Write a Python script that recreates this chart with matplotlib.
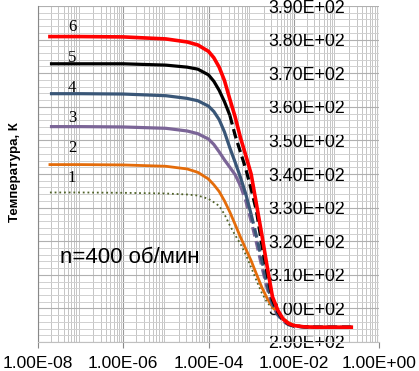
import matplotlib
matplotlib.use('Agg')
import matplotlib.pyplot as plt
import matplotlib.ticker as mticker
import numpy as np

# log10 of x
logx = [-7.72, -7, -6, -5, -4.5, -4.25, -4, -3.875, -3.75, -3.625, -3.5, -3.375,
        -3.25, -3.125, -3, -2.875, -2.75, -2.625, -2.5, -2.375, -2.25, -2.125,
        -2, -1.75, -1.5, -1, -0.65]

t6 = [380.9, 380.9, 380.8, 380.2, 379.3, 378.4, 376.5, 374.6, 371.8, 367.8, 362.3, 357.0,
      350.8, 345.5, 340.0, 331.0, 322.0, 312.5, 303.5, 299.5, 296.8, 295.5,
      294.9, 294.5, 294.4, 294.4, 294.4]
t5 = [372.8, 372.8, 372.8, 372.4, 371.8, 371.2, 369.5, 367.6, 364.9, 361.5, 357.5, 351.5,
      346.5, 341.5, 335.5, 329.0, 319.0, 310.5, 302.5, 299.0, 296.6, 295.4,
      294.8, 294.5, 294.4, 294.4, 294.4]
t4 = [363.9, 363.9, 363.8, 363.3, 362.5, 361.8, 360.2, 358.6, 356.2, 352.5, 347.8, 343.5,
      339.0, 334.0, 328.0, 321.5, 314.5, 307.0, 301.5, 298.3, 296.3, 295.2,
      294.7, 294.5, 294.4, 294.4, 294.4]
t3 = [354.1, 354.1, 354.0, 353.6, 352.8, 352.0, 350.4, 348.8, 346.6, 344.2, 342.0, 339.8,
      336.5, 332.0, 326.0, 319.5, 312.5, 306.0, 301.0, 298.0, 296.2, 295.2,
      294.7, 294.5, 294.4, 294.4, 294.4]
t2 = [342.8, 342.8, 342.7, 342.3, 341.5, 340.5, 338.5, 336.8, 334.8, 332.0, 328.7, 325.0,
      321.2, 317.7, 314.2, 310.2, 306.3, 303.0, 300.5, 298.6, 297.0, 295.8,
      295.0, 294.5, 294.4, 294.4, 294.4]
t1 = [334.5, 334.5, 334.4, 334.2, 333.9, 333.6, 332.6, 331.6, 330.5, 328.0, 324.7, 321.8,
      319.2, 316.0, 312.2, 308.3, 304.6, 301.8, 300.0, 298.5, 297.0, 295.9,
      295.1, 294.6, 294.4, 294.4, 294.4]

curve_labels = ['1', '2', '3', '4', '5', '6']
label_T = [338.7, 347.6, 356.8, 365.7, 374.6, 383.8]

x = 10.0 ** np.array(logx)

fig = plt.figure(figsize=(4.19, 3.71), dpi=100)
ax = fig.add_axes([38/419, 1 - 342/371, 341/419, 336/371])

ax.set_xscale('log')
ax.set_xlim(1e-8, 1e0)
ax.set_ylim(290, 390)

ax.xaxis.set_major_locator(mticker.LogLocator(base=10, numticks=20))
ax.xaxis.set_minor_locator(mticker.LogLocator(base=10, subs=np.arange(2, 10), numticks=20))
ax.yaxis.set_major_locator(mticker.MultipleLocator(10))
ax.yaxis.set_minor_locator(mticker.MultipleLocator(2))

ax.grid(which='major', axis='x', color='#9a9a9a', lw=0.8)
ax.grid(which='minor', axis='x', color='#c4c4c4', lw=0.7)
ax.grid(which='major', axis='y', color='#b0b0b0', lw=0.8)
ax.grid(which='minor', axis='y', color='#d0d0d0', lw=0.7)
ax.set_axisbelow(True)

for s in ['top', 'right']:
    ax.spines[s].set_visible(False)
ax.spines['left'].set_color('#888888')
ax.spines['bottom'].set_color('#c0c0c0')

ax.set_xticks([1e-8, 1e-6, 1e-4, 1e-2, 1e0])
ax.set_xticklabels(['1.00E-08', '1.00E-06', '1.00E-04', '1.00E-02', '1.00E+00'])
ax.tick_params(axis='x', which='major', length=4, color='#888888', pad=6,
               labelsize=12.5, labelcolor='black')
ax.tick_params(axis='x', which='minor', length=0)

yt = np.arange(290, 391, 10)
ax.set_yticks(yt)
ax.set_yticklabels(['{:.2f}E+02'.format(v / 100) for v in yt])
ax.tick_params(axis='y', which='both', length=0, left=False, right=False,
               labelleft=False, labelright=True, pad=-80, labelsize=12.8)
for lab in ax.get_xticklabels() + ax.get_yticklabels():
    lab.set_family('Liberation Sans')

def split_plot(t, cut, color, lw):
    k = np.searchsorted(logx, cut)
    ax.plot(x[:k + 1], t[:k + 1], color=color, lw=lw, solid_capstyle='butt')
    ax.plot(x[k:], t[k:], color=color, lw=lw, ls=(0, (3, 1.5)))

ax.plot(x, t1, color='#4f6228', lw=1.3, ls=(0, (1, 1.6)))
ax.plot(x, t2, color='#e46c0a', lw=2.0)
split_plot(t3, -3.25, '#7b6597', 2.3)
split_plot(t4, -3.0, '#395677', 2.3)
split_plot(t5, -3.5, '#000000', 2.3)
ax.plot(x, t6, color='#ff0000', lw=2.6)

for lab, tv in zip(curve_labels, label_T):
    ax.text(10 ** -7.2, tv, lab, family='Liberation Serif', fontsize=12,
            ha='center', va='center')

ax.text(10 ** -7.48, 315.2, 'n=400 об/мин', family='Liberation Sans',
        fontsize=16, ha='left', va='center')

fig.text(15/419, 1 - 172/371, 'Температура, К', rotation=90, ha='center',
         va='center', family='Liberation Sans', fontweight='bold', fontsize=9.5)

fig.savefig('out.png', dpi=100)
